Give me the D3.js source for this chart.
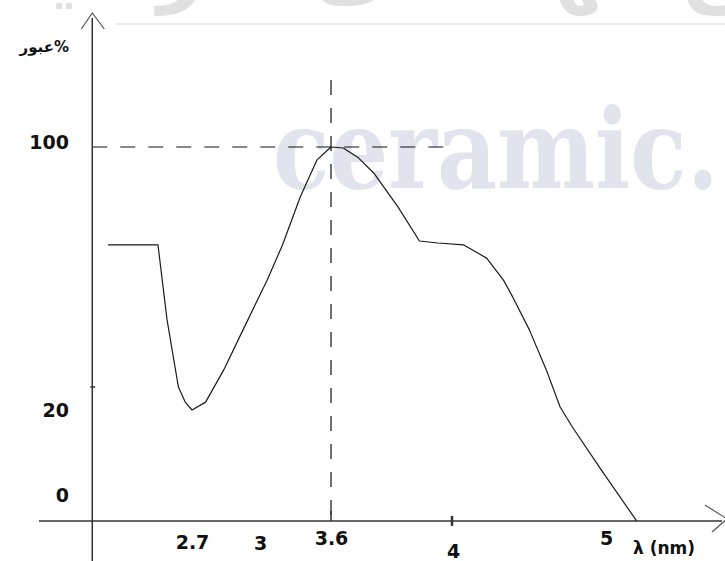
<!DOCTYPE html>
<html>
<head>
<meta charset="utf-8">
<script src="https://cdn.jsdelivr.net/npm/d3@7"></script>
<style>
  html, body { margin: 0; padding: 0; background: #fff; overflow: hidden; }
  svg { display: block; }
</style>
</head>
<body>
<svg id="chart" width="725" height="561"></svg>
<script>
// Transmission spectrum: wavelength (nm) vs transmission (%)
const wavelength = [
  2.33, 2.55, 2.59, 2.64, 2.67, 2.70, 2.76, 2.84, 2.94, 3.06,
  3.19, 3.34, 3.48, 3.60, 3.64, 3.69, 3.74, 3.82, 3.89, 3.95,
  4.07, 4.22, 4.33, 4.39, 4.50, 4.61, 4.70, 4.78, 4.96, 5.20
];
const transmission = [
  70.2, 70.2, 47.4, 27.0, 22.4, 20.0, 22.4, 32.2, 46.5, 59.5,
  70.2, 84.8, 96.0, 100, 99.7, 96.7, 92.1, 81.7, 71.4, 70.8,
  70.2, 66.2, 59.5, 54.4, 44.3, 32.2, 20.9, 16.0, 6.4, -6.1
];
const xTickValues = [2.7, 3, 3.6, 4, 5];
const yTickValues = [0, 20, 100];
const yMinorTicks = [27];
const peakWavelength = 3.6;
const peakTransmission = 100;
const baselineValue = -6.1;   // level of the horizontal axis
const originWavelength = 2.26; // position of the vertical axis
const xAxisTitle = "λ (nm)";
const yAxisTitle = "عبور%";

const W = 725, H = 561;
const svg = d3.select("#chart");

// Hand-spaced axes: piecewise linear scales through the labelled ticks
const x = d3.scaleLinear().domain(xTickValues).range([192, 260, 331, 453, 606]);
const y = d3.scaleLinear().domain(yTickValues).range([495, 410, 147]);

const x0 = x(originWavelength);
const y0 = y(baselineValue);

// ---- site watermarks (drawn underneath) ----
const wm = svg.append("g").attr("class", "watermark");
wm.append("text")
  .attr("x", 430).attr("y", -4)
  .attr("text-anchor", "middle")
  .attr("font-family", "DejaVu Sans")
  .attr("font-weight", "bold")
  .attr("font-size", 80)
  .attr("fill", "#e0e0e0")
  .text("مرجع مهندسی سرامیک");
wm.append("line")
  .attr("x1", 115).attr("x2", W)
  .attr("y1", 24).attr("y2", 24)
  .attr("stroke", "#e4e4e4").attr("stroke-width", 1.5);

// site name, squeezed horizontally to fit between x=273 and the right edge
const brandG = wm.append("g");
const brand = brandG.append("text")
  .attr("x", 0).attr("y", 0)
  .attr("font-family", "DejaVu Serif")
  .attr("font-weight", "bold")
  .attr("font-size", 110)
  .attr("fill", "#e1e3ed")
  .text("ceramic.");
const brandWidth = brand.node().getComputedTextLength();
const squeeze = 446 / brandWidth;
brandG.attr("transform", `translate(273,188) scale(${squeeze},1)`);

// ---- dashed guides to the peak ----
const guide = svg.append("g")
  .attr("fill", "none")
  .attr("stroke", "#111")
  .attr("stroke-width", 1.2)
  .attr("stroke-dasharray", "15,13");
guide.append("line")
  .attr("x1", x0).attr("x2", 454)
  .attr("y1", y(peakTransmission)).attr("y2", y(peakTransmission));
guide.append("line")
  .attr("x1", x(peakWavelength)).attr("x2", x(peakWavelength))
  .attr("y1", 80).attr("y2", y0);

// ---- axes with open arrowheads ----
const axes = svg.append("g").attr("fill", "none").attr("stroke", "#333");
axes.append("line")
  .attr("x1", x0).attr("x2", x0)
  .attr("y1", 18).attr("y2", H)
  .attr("stroke-width", 1.5);
axes.append("polyline")
  .attr("points", [[x0 - 11, 29], [x0, 13], [x0 + 12, 29]].join(" "))
  .attr("stroke", "#555").attr("stroke-width", 1.2);
axes.append("line")
  .attr("x1", 39).attr("x2", 722)
  .attr("y1", y0).attr("y2", y0)
  .attr("stroke-width", 1.5);
axes.append("polyline")
  .attr("points", [[705, y0 - 16], [727, y0 - 2], [712, y0 + 11]].join(" "))
  .attr("stroke", "#555").attr("stroke-width", 1.2);

// tick marks on the axes
axes.selectAll(".xtick")
  .data([4])
  .join("line")
  .attr("x1", d => x(d) - 1).attr("x2", d => x(d) - 1)
  .attr("y1", y0 - 5).attr("y2", y0 + 5)
  .attr("stroke-width", 2.5);
axes.append("line")
  .attr("x1", x(peakWavelength)).attr("x2", x(peakWavelength))
  .attr("y1", y0 - 10).attr("y2", y0)
  .attr("stroke-width", 1.5);
axes.selectAll(".ytick")
  .data(yMinorTicks)
  .join("line")
  .attr("x1", x0 - 2).attr("x2", x0 + 3)
  .attr("y1", d => y(d)).attr("y2", d => y(d))
  .attr("stroke-width", 1.5);

// ---- tick labels ----
const labelFont = g => g
  .attr("font-family", "DejaVu Sans")
  .attr("font-weight", "bold")
  .attr("fill", "#111");

const yAxis = d3.axisLeft(y).tickValues(yTickValues).tickSize(0).tickPadding(0)
  .tickFormat(d3.format("d"));
const yG = svg.append("g").attr("transform", "translate(69,0)").call(yAxis);
yG.select(".domain").remove();
yG.selectAll("text")
  .call(labelFont)
  .attr("font-size", 19)
  .attr("dy", d => d === 100 ? "0.08em" : "0.35em");

// x labels sit at slightly different depths below the axis
const labelDrop = { 2.7: 21, 3: 22, 3.6: 17, 4: 30, 5: 17 };
const xAxis = d3.axisBottom(x).tickValues(xTickValues).tickSize(0).tickPadding(0)
  .tickFormat(d => String(d));
const xG = svg.append("g").attr("transform", `translate(0,${y0})`).call(xAxis);
xG.select(".domain").remove();
xG.selectAll("text")
  .call(labelFont)
  .attr("font-size", 19)
  .attr("y", d => labelDrop[d])
  .attr("dy", "0.35em");

svg.append("text")
  .call(labelFont)
  .attr("x", 664).attr("y", y0 + 27)
  .attr("dy", "0.35em")
  .attr("text-anchor", "middle")
  .attr("font-size", 17)
  .text(xAxisTitle);

svg.append("text")
  .call(labelFont)
  .attr("x", 69).attr("y", 47)
  .attr("dy", "0.35em")
  .attr("text-anchor", "end")
  .attr("font-size", 15)
  .text(yAxisTitle);

// ---- the spectrum curve ----
const line = d3.line()
  .x((d, i) => x(wavelength[i]))
  .y(d => y(d))
  .curve(d3.curveLinear);
svg.append("path")
  .datum(transmission)
  .attr("d", line)
  .attr("fill", "none")
  .attr("stroke", "#1a1a1a")
  .attr("stroke-width", 1.2)
  .attr("stroke-linejoin", "round");
</script>
</body>
</html>
